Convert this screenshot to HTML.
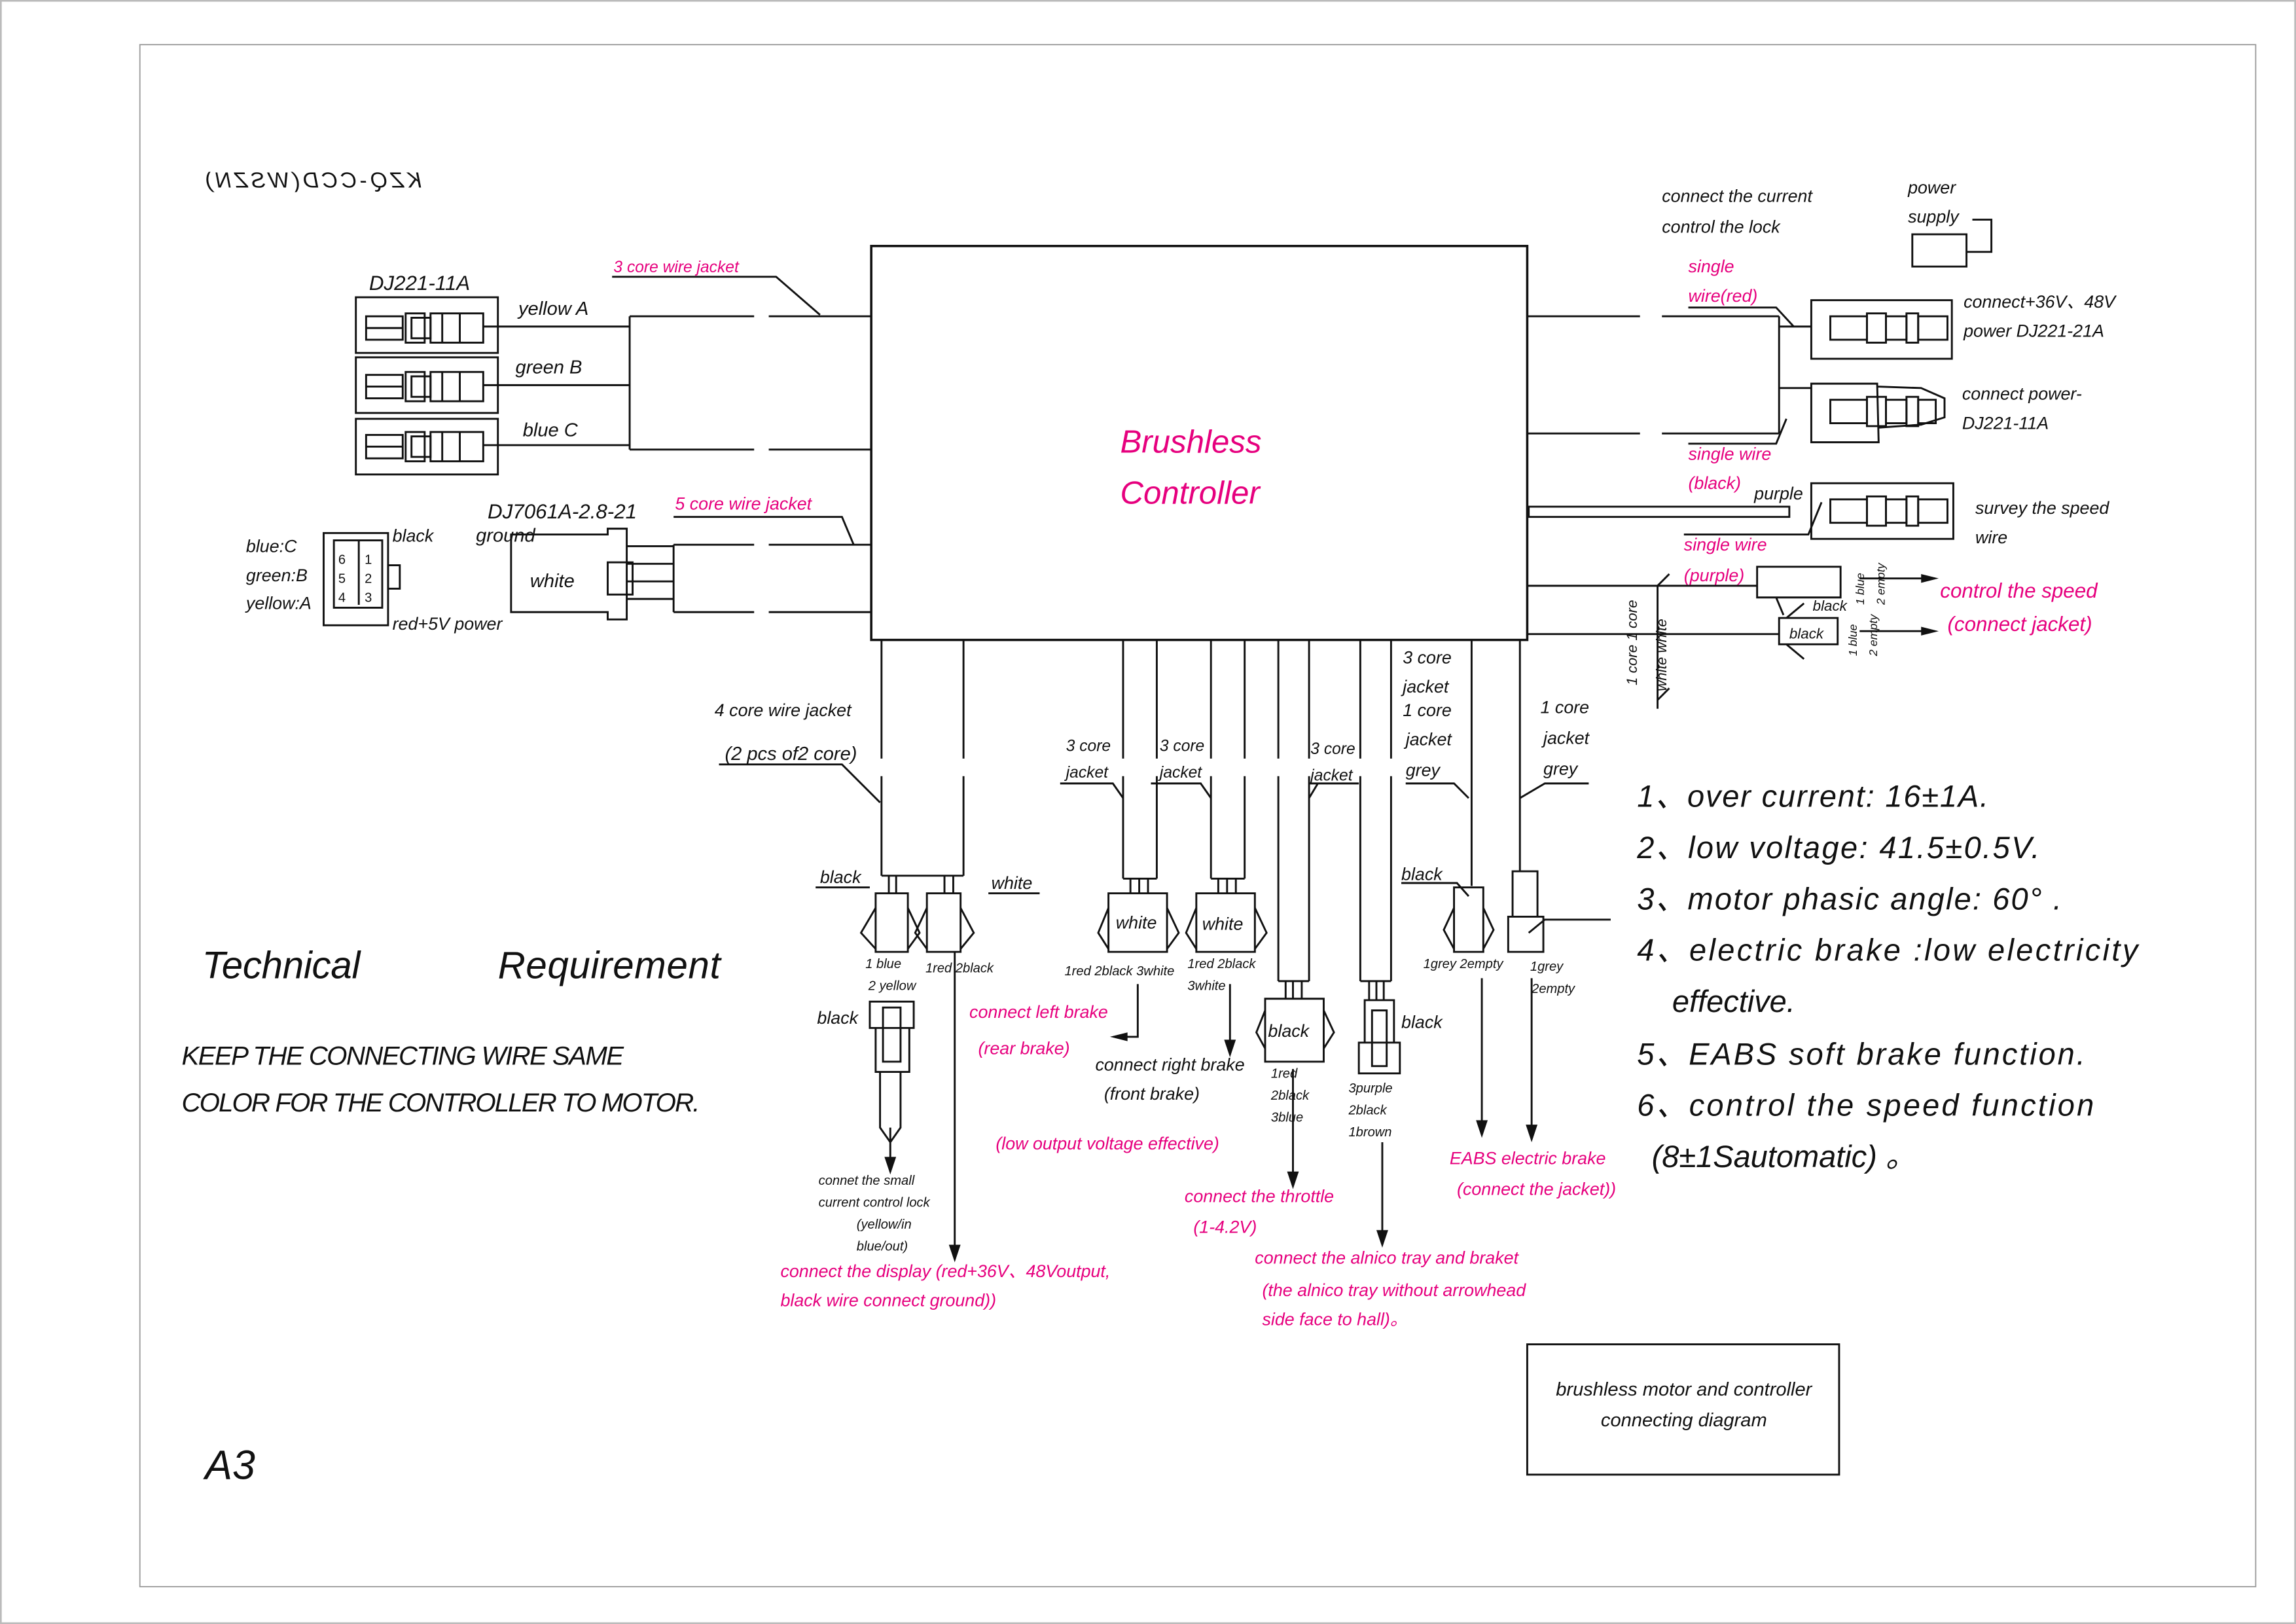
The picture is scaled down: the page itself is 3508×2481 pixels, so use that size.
<!DOCTYPE html>
<html><head><meta charset="utf-8">
<style>
html,body{margin:0;padding:0;background:#fff;}
svg{display:block;}
text{font-family:"Liberation Sans",sans-serif;font-style:italic;fill:#111;}
.m{fill:#e6007e;}
</style></head>
<body>
<svg width="3508" height="2481" viewBox="0 0 1568 1109" xmlns="http://www.w3.org/2000/svg">
<g fill="none" stroke="#111" stroke-width="1.3">
<rect x="0.5" y="0.5" width="1567" height="1108" stroke="#bbb"/>
<rect x="95.5" y="30.5" width="1445" height="1053" stroke="#999" stroke-width="0.8"/>
<rect x="595" y="168" width="448" height="269" stroke-width="1.6"/>
<rect x="243" y="203" width="97" height="38"/>
<rect x="243" y="244" width="97" height="38"/>
<rect x="243" y="286" width="97" height="38"/>
<g id="c1">
<rect x="250" y="216" width="25" height="16"/><rect x="277" y="214" width="13" height="20"/><rect x="281" y="217" width="13" height="14"/><rect x="294" y="214" width="36" height="20"/><line x1="302" y1="214" x2="302" y2="234"/><line x1="314" y1="214" x2="314" y2="234"/><line x1="250" y1="224" x2="275" y2="224"/>
</g>
<use href="#c1" y="40"/><use href="#c1" y="81"/>
<path d="M330 223H430M330 263H430M330 304H430M430 216V307M430 216H515M525 216H595M430 307H515M525 307H595"/>
<path d="M418 189H530L560 215"/>
<path d="M349 365H415V361H428V423H415V418H349Z"/>
<rect x="415" y="384" width="17" height="22"/>
<path d="M428 373H460M428 385H460M428 397H460M428 409H460M460 372V418M460 372H515M525 372H595M460 418H515M525 418H595"/>
<path d="M460 353H575L583 372"/>
<rect x="221" y="364" width="44" height="63"/>
<rect x="228" y="369" width="33" height="46"/>
<rect x="265" y="386" width="8" height="16"/>
<line x1="245" y1="369" x2="245" y2="413"/>
<path d="M602 437V518M602 530V598M658 437V518M658 530V598M602 598H658"/>
<path d="M491 522H575L601 548"/>
<path d="M607 598V610M612 598V610M645 598V610M651 598V610"/>
<path d="M598 610H620V650H598ZM633 610H656V650H633Z"/>
<path d="M598 620L588 637L598 648M620 620L628 637L620 648M633 620L625 637L633 648M656 620L665 637L656 648"/>
<path d="M557 606H594M675 610H710"/>
<path d="M594 684H624V702H594ZM598 702H621V732H598ZM603 688H615V725H603Z"/>
<path d="M601 732V770L608 780L615 770V732M608 770V800"/>
<path d="M652 650V860"/>
<path d="M767 437V518M767 530V600M790 437V518M790 530V600M767 600H790M827 437V518M827 530V600M850 437V518M850 530V600M827 600H850"/>
<path d="M724 535H760L767 545M786 535H820L827 545"/>
<path d="M772 600V610M778 600V610M784 600V610M832 600V610M838 600V610M844 600V610"/>
<path d="M757 610H797V650H757ZM817 610H857V650H817Z"/>
<path d="M757 620L750 637L757 648M797 620L805 637L797 648M817 620L810 637L817 648M857 620L865 637L857 648"/>
<path d="M777 672V708H762M840 672V720"/>
<path d="M873 437V518M873 530V670M894 437V518M894 530V670M873 670H894M878 670V682M883 670V682M889 670V682"/>
<path d="M864 682H904V725H864ZM864 690L858 705L864 716M904 690L911 705L904 716"/>
<path d="M894 535H928M894 545L900 535M883 730V810"/>
<path d="M929 437V518M929 530V670M950 437V518M950 530V670M929 670H950M935 670V683M940 670V683M945 670V683"/>
<path d="M932 683H952V712H932ZM928 712H956V733H928ZM937 690H947V728H937Z"/>
<path d="M944 780V850"/>
<path d="M1005 437V605M960 535H993L1003 545M957 603H995L1003 612"/>
<path d="M993 606H1013V650H993ZM993 620L986 635L993 648M1013 620L1020 635L1013 648M1012 668V775"/>
<path d="M1038 437V595M1038 545L1055 535H1085M1033 595H1050V626H1033ZM1030 626H1054V650H1030ZM1044 637L1055 628H1100M1046 668V778"/>
<path d="M1043 216H1120M1135 216H1215M1043 296H1120M1135 296H1215M1215 216V296M1215 223H1237M1215 265H1237M1153 210H1213L1225 223M1153 303H1213L1220 286"/>
<rect x="1237" y="205" width="96" height="40"/>
<g id="c2"><rect x="1250" y="216" width="25" height="16"/><rect x="1275" y="214" width="13" height="20"/><rect x="1288" y="216" width="14" height="16"/><rect x="1302" y="214" width="8" height="20"/><rect x="1310" y="216" width="20" height="16"/></g>
<path d="M1237 262H1282L1283 302H1237ZM1282 264L1312 265L1328 272V285L1312 290L1283 292"/>
<rect x="1250" y="273" width="25" height="16"/><rect x="1275" y="271" width="13" height="20"/><rect x="1288" y="273" width="14" height="16"/><rect x="1302" y="271" width="8" height="20"/><rect x="1310" y="273" width="12" height="16"/>
<rect x="1237" y="330" width="97" height="38"/>
<use href="#c2" y="125"/>
<path d="M1044 346H1222V353H1044ZM1150 365H1235L1244 343"/>
<path d="M1306 160H1343V182H1306ZM1347 150H1360V172H1343"/>
<path d="M1043 400H1200M1200 387H1257V408H1200ZM1213 408L1218 420M1043 433H1215M1215 422H1255V440H1215ZM1220 440L1232 450M1220 422L1232 412"/>
<path d="M1132 484V400L1140 392M1132 478L1140 470"/>
<path d="M1270 395H1315M1270 431H1315"/>
<rect x="1043" y="918" width="213" height="89"/>
</g>
<g fill="#111">
<path d="M604 790L608 802L612 790Z"/><path d="M648 850L652 862L656 850Z"/>
<path d="M770 705L758 708L770 711Z"/><path d="M836 710L840 722L844 710Z"/>
<path d="M879 800L883 812L887 800Z"/><path d="M940 840L944 852L948 840Z"/>
<path d="M1008 765L1012 777L1016 765Z"/><path d="M1042 768L1046 780L1050 768Z"/>
<path d="M1312 392L1324 395L1312 398Z"/><path d="M1312 428L1324 431L1312 434Z"/>
</g>
<text transform="translate(288,128) scale(-1,1)" font-size="15" textLength="148">KZQ-CCD(WSZN)</text>
<text x="252" y="198" font-size="14">DJ221-11A</text>
<text x="354" y="215" font-size="13">yellow  A</text>
<text x="352" y="255" font-size="13">green  B</text>
<text x="357" y="298" font-size="13">blue  C</text>
<text x="419" y="186" font-size="11" class="m">3 core wire jacket</text>
<text x="333" y="354" font-size="14">DJ7061A-2.8-21</text>
<text x="325" y="370" font-size="13">ground</text>
<text x="362" y="401" font-size="13">white</text>
<text x="461" y="348" font-size="12" class="m">5 core wire jacket</text>
<text x="168" y="377" font-size="12">blue:C</text>
<text x="168" y="397" font-size="12">green:B</text>
<text x="168" y="416" font-size="12">yellow:A</text>
<text x="268" y="370" font-size="12">black</text>
<text x="268" y="430" font-size="12">red+5V power</text>
<text x="231" y="385" font-size="9" style="font-style:normal">6</text><text x="231" y="398" font-size="9" style="font-style:normal">5</text><text x="231" y="411" font-size="9" style="font-style:normal">4</text>
<text x="249" y="385" font-size="9" style="font-style:normal">1</text><text x="249" y="398" font-size="9" style="font-style:normal">2</text><text x="249" y="411" font-size="9" style="font-style:normal">3</text>
<text x="765" y="309" font-size="22" class="m">Brushless</text>
<text x="765" y="344" font-size="22" class="m">Controller</text>
<text x="488" y="489" font-size="12">4 core wire jacket</text>
<text x="495" y="519" font-size="13">(2 pcs of2 core)</text>
<text x="560" y="603" font-size="12">black</text>
<text x="677" y="607" font-size="12">white</text>
<text x="591" y="661" font-size="9">1 blue</text>
<text x="593" y="676" font-size="9">2 yellow</text>
<text x="632" y="664" font-size="9">1red 2black</text>
<text x="558" y="699" font-size="12">black</text>
<text x="559" y="809" font-size="9">connet the small</text>
<text x="559" y="824" font-size="9">current control lock</text>
<text x="585" y="839" font-size="9">(yellow/in</text>
<text x="585" y="854" font-size="9">blue/out)</text>
<text x="533" y="872" font-size="12" class="m">connect the display (red+36V、48Voutput,</text>
<text x="533" y="892" font-size="12" class="m">black wire connect ground))</text>
<text x="728" y="513" font-size="11">3 core</text><text x="728" y="531" font-size="11">jacket</text>
<text x="792" y="513" font-size="11">3 core</text><text x="792" y="531" font-size="11">jacket</text>
<text x="895" y="515" font-size="11">3 core</text><text x="895" y="533" font-size="11">jacket</text>
<text x="762" y="634" font-size="12">white</text>
<text x="821" y="635" font-size="12">white</text>
<text x="727" y="666" font-size="9">1red 2black 3white</text>
<text x="811" y="661" font-size="9">1red 2black</text>
<text x="811" y="676" font-size="9">3white</text>
<text x="662" y="695" font-size="12" class="m">connect left brake</text>
<text x="668" y="720" font-size="12" class="m">(rear brake)</text>
<text x="748" y="731" font-size="12">connect right brake</text>
<text x="754" y="751" font-size="12">(front brake)</text>
<text x="680" y="785" font-size="12" class="m">(low output voltage effective)</text>
<text x="866" y="708" font-size="12">black</text>
<text x="868" y="736" font-size="9">1red</text><text x="868" y="751" font-size="9">2black</text><text x="868" y="766" font-size="9">3blue</text>
<text x="809" y="821" font-size="12" class="m">connect the throttle</text>
<text x="815" y="842" font-size="12" class="m">(1-4.2V)</text>
<text x="957" y="702" font-size="12">black</text>
<text x="921" y="746" font-size="9">3purple</text><text x="921" y="761" font-size="9">2black</text><text x="921" y="776" font-size="9">1brown</text>
<text x="857" y="863" font-size="12" class="m">connect the alnico tray and braket</text>
<text x="862" y="885" font-size="12" class="m">(the alnico tray without arrowhead</text>
<text x="862" y="905" font-size="12" class="m">side face to hall)。</text>
<text x="958" y="453" font-size="12">3 core</text><text x="958" y="473" font-size="12">jacket</text>
<text x="958" y="489" font-size="12">1 core</text><text x="960" y="509" font-size="12">jacket</text><text x="960" y="530" font-size="12">grey</text>
<text x="957" y="601" font-size="12">black</text>
<text x="972" y="661" font-size="9">1grey 2empty</text>
<text x="990" y="795" font-size="12" class="m">EABS electric brake</text>
<text x="995" y="816" font-size="12" class="m">(connect the jacket))</text>
<text x="1052" y="487" font-size="12">1 core</text><text x="1054" y="508" font-size="12">jacket</text><text x="1054" y="529" font-size="12">grey</text>
<text x="1045" y="663" font-size="9">1grey</text><text x="1046" y="678" font-size="9">2empty</text>
<text x="1135" y="138" font-size="12">connect the current</text>
<text x="1135" y="159" font-size="12">control the lock</text>
<text x="1303" y="132" font-size="12">power</text>
<text x="1303" y="152" font-size="12">supply</text>
<text x="1153" y="186" font-size="12" class="m">single</text>
<text x="1153" y="206" font-size="12" class="m">wire(red)</text>
<text x="1341" y="210" font-size="12">connect+36V、48V</text>
<text x="1341" y="230" font-size="12">power DJ221-21A</text>
<text x="1340" y="273" font-size="12">connect power-</text>
<text x="1340" y="293" font-size="12">DJ221-11A</text>
<text x="1153" y="314" font-size="12" class="m">single wire</text>
<text x="1153" y="334" font-size="12" class="m">(black)</text>
<text x="1198" y="341" font-size="12">purple</text>
<text x="1349" y="351" font-size="12">survey the speed</text>
<text x="1349" y="371" font-size="12">wire</text>
<text x="1150" y="376" font-size="12" class="m">single wire</text>
<text x="1150" y="397" font-size="12" class="m">(purple)</text>
<text x="1238" y="417" font-size="10">black</text>
<text x="1222" y="436" font-size="10">black</text>
<text x="1325" y="408" font-size="14" class="m">control the speed</text>
<text x="1330" y="431" font-size="14" class="m">(connect jacket)</text>
<text transform="translate(1118,468) rotate(-90)" font-size="10">1 core 1 core</text>
<text transform="translate(1138,472) rotate(-90)" font-size="10">white white</text>
<text transform="translate(1273,413) rotate(-90)" font-size="8">1 blue</text>
<text transform="translate(1287,413) rotate(-90)" font-size="8">2 empty</text>
<text transform="translate(1268,448) rotate(-90)" font-size="8">1 blue</text>
<text transform="translate(1282,448) rotate(-90)" font-size="8">2 empty</text>
<text x="1118" y="551" font-size="21" textLength="240">1、over current: 16±1A.</text>
<text x="1118" y="586" font-size="21" textLength="275">2、low voltage: 41.5±0.5V.</text>
<text x="1118" y="621" font-size="21" textLength="290">3、motor phasic angle: 60° .</text>
<text x="1118" y="656" font-size="21" textLength="342">4、electric brake :low electricity</text>
<text x="1142" y="691" font-size="21">effective.</text>
<text x="1118" y="727" font-size="21" textLength="306">5、EABS soft brake function.</text>
<text x="1118" y="762" font-size="21" textLength="312">6、control the speed function</text>
<text x="1128" y="797" font-size="21">(8±1Sautomatic) 。</text>
<text x="138" y="668" font-size="26" textLength="108">Technical</text>
<text x="340" y="668" font-size="26" textLength="152">Requirement</text>
<text x="124" y="727" font-size="18" textLength="302">KEEP THE CONNECTING WIRE SAME</text>
<text x="124" y="759" font-size="18" textLength="354">COLOR FOR THE CONTROLLER TO MOTOR.</text>
<text x="140" y="1010" font-size="28">A3</text>
<text x="1150" y="953" font-size="13" text-anchor="middle">brushless motor and controller</text>
<text x="1150" y="974" font-size="13" text-anchor="middle">connecting  diagram</text>
</svg>
</body></html>
